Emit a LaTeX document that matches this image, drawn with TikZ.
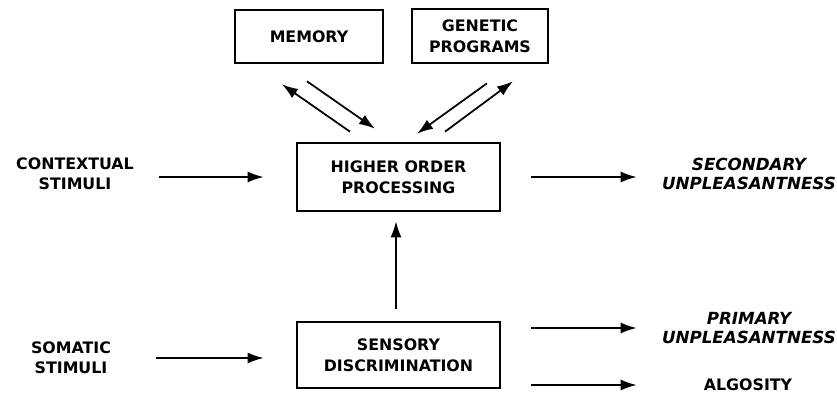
\documentclass[tikz,border=0pt]{standalone}
\usepackage{fontspec}
\setmainfont{DejaVu Sans}
\usepackage{tikz}
\usetikzlibrary{arrows.meta}

\tikzset{
  box/.style={rectangle, draw, line width=1.5pt, align=center,
    font=\bfseries\fontsize{9}{11.8}\selectfont},
  txt/.style={rectangle, inner sep=0pt, align=center,
    font=\bfseries\fontsize{9}{11.5}\selectfont},
  emph/.style={font=\bfseries\itshape\fontsize{9.5}{10.8}\selectfont},
  arr/.style={-{Latex[length=3.2mm,width=2.2mm]}, line width=1pt}
}

\begin{document}
\begin{tikzpicture}
  \useasboundingbox (0,0) rectangle (16.74,7.84);

  \node[box, minimum width=2.96cm, minimum height=1.06cm] (mem) at (6.18,7.11) {MEMORY};
  \node[box, minimum width=2.72cm, minimum height=1.08cm] (gp) at (9.6,7.12) {GENETIC\\PROGRAMS};
  \node[box, minimum width=4.06cm, minimum height=1.36cm] (hop) at (7.97,4.3) {HIGHER ORDER\\PROCESSING};
  \node[box, minimum width=4.06cm, minimum height=1.32cm] (sd) at (7.97,0.74) {SENSORY\\DISCRIMINATION};

  \node[txt] (ctx) at (1.5,4.36) {CONTEXTUAL\\STIMULI};
  \node[txt] (som) at (1.42,0.68) {SOMATIC\\STIMULI};
  \node[txt, emph] (sec) at (14.98,4.36) {SECONDARY\\UNPLEASANTNESS};
  \node[txt, emph] (pri) at (14.98,1.28) {PRIMARY\\UNPLEASANTNESS};
  \node[txt] (alg) at (14.96,0.14) {ALGOSITY};

  % inputs
  \draw[arr, shorten <=0.5cm, shorten >=0.64cm] (ctx.east |- hop.west) -- (hop.west);
  \draw[arr, shorten <=0.9cm, shorten >=0.64cm] (som.east) -- (som.east -| sd.west);
  \draw[arr, shorten <=0.24cm, shorten >=0.18cm] ([xshift=-0.05cm]sd.north) -- ([xshift=-0.05cm]hop.south);

  % outputs
  \draw[arr, shorten <=0.6cm, shorten >=0.5cm] (hop.east) -- (sec.west |- hop.east);
  \draw[arr, shorten <=0.6cm, shorten >=0.5cm] (sd.east |- pri.west) -- (pri.west);
  \draw[arr, shorten <=0.6cm, shorten >=0.5cm] (sd.east |- alg.west) -- (pri.west |- alg.west);

  % memory and genetic programs
  \draw[arr] ([shift={(-0.97,0.2)}]hop.north) -- ([shift={(-0.54,-0.4)}]mem.south);
  \draw[arr] ([shift={(-0.04,-0.34)}]mem.south) -- ([shift={(-0.47,0.26)}]hop.north);
  \draw[arr] ([shift={(0.14,-0.38)}]gp.south) -- ([shift={(0.37,0.16)}]hop.north);
  \draw[arr] ([shift={(0.93,0.2)}]hop.north) -- ([shift={(0.66,-0.34)}]gp.south);
\end{tikzpicture}
\end{document}
